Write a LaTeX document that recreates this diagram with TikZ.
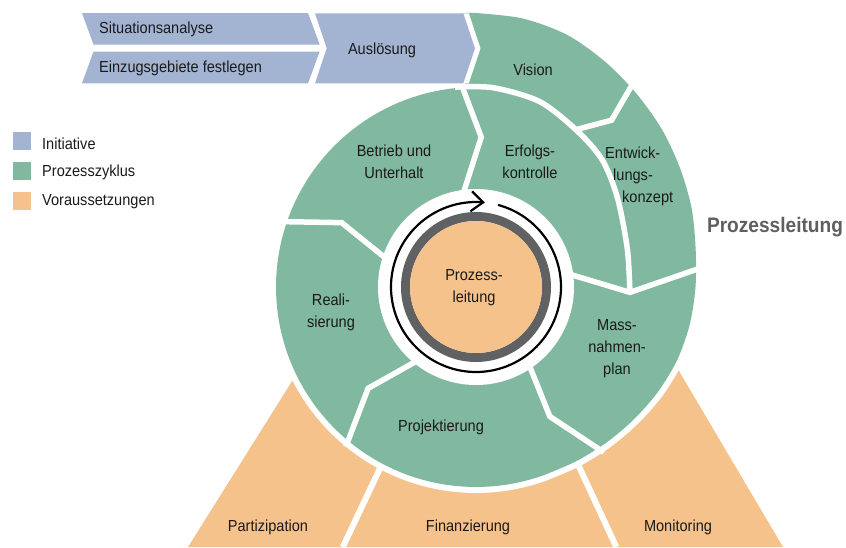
\documentclass[tikz,border=0pt]{standalone}
\usepackage{fontspec}
\setmainfont{Liberation Sans}[FakeStretch=0.91]
\usetikzlibrary{arrows.meta}
\definecolor{initblue}{RGB}{163,180,211}
\definecolor{procgreen}{RGB}{128,185,160}
\definecolor{preorange}{RGB}{246,194,140}
\definecolor{ringgray}{RGB}{96,97,99}
\definecolor{txtcol}{RGB}{26,26,26}
\definecolor{leadgray}{RGB}{95,95,95}
\begin{document}
\begin{tikzpicture}[x=1pt,y=-1pt,
  lbl/.style={font=\fontsize{16}{22}\selectfont, text=txtcol, align=center, inner sep=0pt},
  sepline/.style={draw=white, line width=5.5pt, line join=miter},
  botsep/.style={draw=white, line width=6pt},
  legbox/.style={fill=#1, draw=none, minimum size=18pt, inner sep=0pt},
]
\useasboundingbox (0,0) rectangle (846,547);

% ---------- Voraussetzungen (orange base) ----------
\fill[preorange] (188,547) -- (343,300) -- (637,300) -- (783,547) -- cycle;
\coordinate (pfTop) at (393.4,440); \coordinate (pfBot) at (342.8,547);
\coordinate (fmTop) at (566.7,440); \coordinate (fmBot) at (616.3,547);
\draw[botsep] (pfTop) -- (pfBot);
\draw[botsep] (fmTop) -- (fmBot);

% ---------- Prozesszyklus (green spiral) ----------
\begin{scope}[shift={(476,287)}]
  \path[preaction={draw=white, line width=12pt, line join=round}, fill=procgreen]
    plot[smooth] coordinates {(-93:274) (-90:274) (-80:272.5) (-70:268) (-60:259.5)
      (-50:251) (-40:243.5) (-30:236) (-20:229.5) (-10:223) (0:219.5) (10:217)
      (20:214) (30:210) (40:206) (50:203) (60:201) (70:200)}
    -- plot[domain=70:267, samples=90] (\x:200) -- cycle;
  \fill[white] (0,0) circle (98pt);
  % spiral gap between outer arm and Erfolgskontrolle
  \draw[sepline] plot[smooth] coordinates {(-96:201) (-85:200) (-71:196) (-57:186)
      (-45:179) (-32:167) (-14:156) (2:154)};
  % chevron separators
  \draw[sepline] (-94.3:205) -- (-88:150) -- (-98.5:92);
  \draw[sepline] (198.6:205) -- (205.6:149) -- (197:92);
  \draw[sepline] (129.2:206) -- (136.8:148) -- (128:92);
  \draw[sepline] (52.3:209) -- (60.3:149) -- (55.4:92);
  \draw[sepline] (-8.5:92) -- (2:154) -- (-5:228);
  \draw[sepline] (-57.8:185.6) -- (-50.9:215) -- (-52.4:258);
  % centre: Prozessleitung
  \draw[ringgray, line width=9pt] (0,0) circle (70.5pt);
  \fill[preorange] (0,0) circle (66pt);
  \draw[line width=2.2pt, -{Straight Barb[length=12pt, width=20pt]}]
    plot[domain=-75:276, samples=160] (\x:85);
\end{scope}

% ---------- Initiative (blue chevrons) ----------
\fill[initblue] (82,13) -- (308,13) -- (319.7,44.5) -- (93.5,44.5) -- cycle;
\fill[initblue] (93.5,51.5) -- (319.7,51.5) -- (308,83.3) -- (82,83.3) -- cycle;
\fill[white] (320.5,13.3) -- (468.8,13.3) -- (480.5,48.3) -- (468.8,83.3) -- (320.5,83.3) -- (332.2,48.3) -- cycle;
\fill[initblue] (315,13.3) -- (463.3,13.3) -- (475,48.3) -- (463.3,83.3) -- (315,83.3) -- (326.7,48.3) -- cycle;

% ---------- texts ----------
\node[lbl, anchor=west] (sit) at (99,29.5) {Situationsanalyse};
\node[lbl, anchor=west] (ein) at (99,68) {Einzugsgebiete festlegen};
\node[lbl] (aus) at (382,50) {Auslösung};
\node[lbl] (vis) at (533,69.5) {Vision};
\node[lbl] (erf) at (530,162) {Erfolgs-\\kontrolle};
\node[lbl, anchor=west, align=left] (ent) at (605,176) {Entwick-\\\hspace*{8pt}lungs-\\\hspace*{17pt}konzept};
\node[lbl] (bet) at (394,162) {Betrieb und\\Unterhalt};
\node[lbl] (rea) at (331,312) {Reali-\\sierung};
\node[lbl] (mas) at (617,348.5) {Mass-\\nahmen-\\plan};
\node[lbl] (pro) at (441,427) {Projektierung};
\node[lbl] (pzl) at (474,288) {Prozess-\\leitung};
\node[lbl] (par) at (268,527) {Partizipation};
\node[lbl] (fin) at (468,527) {Finanzierung};
\node[lbl] (mon) at (678,527) {Monitoring};
\node[font=\bfseries\fontsize{21}{25}\selectfont, text=leadgray, inner sep=0pt] (lead) at (775,227) {Prozessleitung};

% ---------- legend ----------
\node[legbox=initblue] (lg1) at (22,141) {};
\node[legbox=procgreen] (lg2) at (22,171) {};
\node[legbox=preorange] (lg3) at (22,201) {};
\node[lbl, anchor=west] (lt1) at (42,144) {Initiative};
\node[lbl, anchor=west] (lt2) at (42,172) {Prozesszyklus};
\node[lbl, anchor=west] (lt3) at (42,201.5) {Voraussetzungen};
\end{tikzpicture}
\end{document}
